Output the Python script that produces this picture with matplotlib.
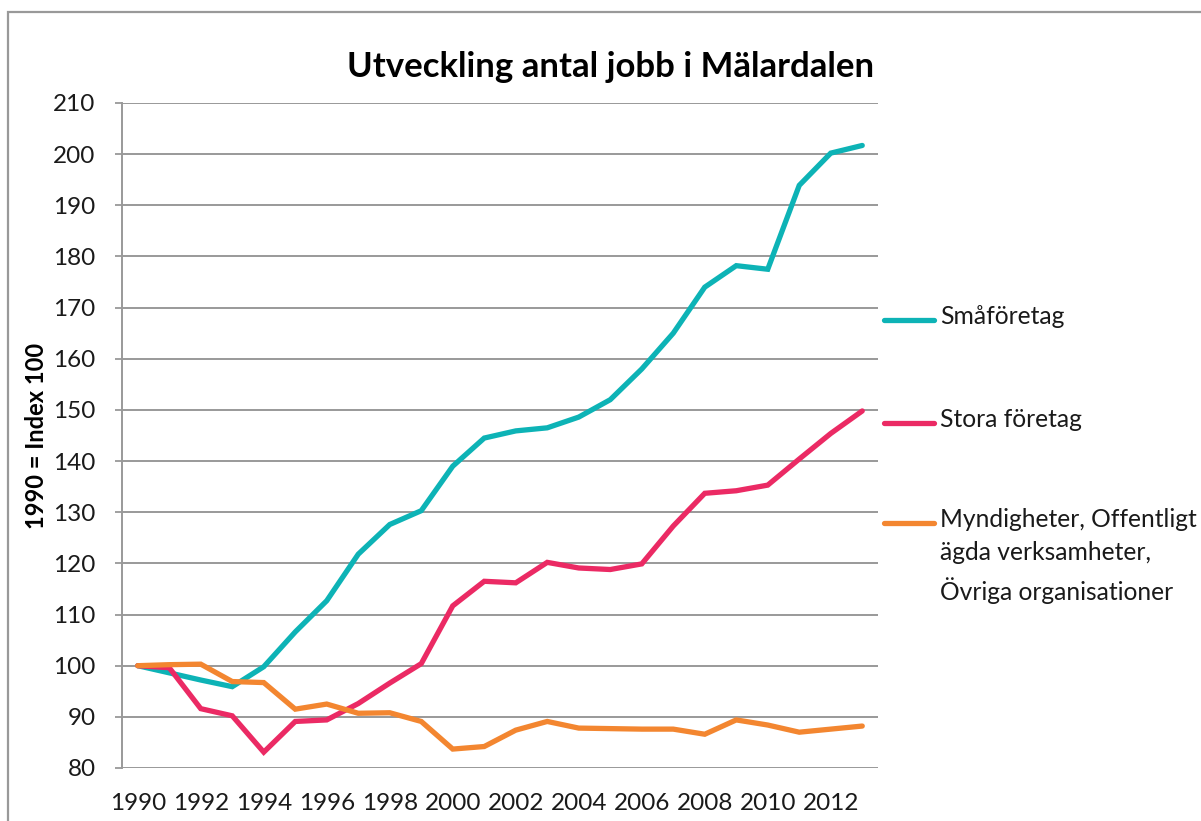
import matplotlib
matplotlib.use("Agg")
import matplotlib.pyplot as plt
from matplotlib.lines import Line2D
from matplotlib.patches import Rectangle

years = list(range(1990, 2014))
smaforetag = [100, 98.6, 97.2, 95.9, 99.8, 106.6, 112.7, 121.8, 127.6, 130.3, 139.0, 144.5,
              145.9, 146.5, 148.6, 152.0, 158.0, 165.0, 174.0, 178.2, 177.5, 193.9, 200.2, 201.7]
stora = [100, 99.6, 91.6, 90.2, 83.1, 89.1, 89.4, 92.6, 96.6, 100.4, 111.7, 116.5,
         116.2, 120.2, 119.1, 118.8, 119.9, 127.3, 133.7, 134.2, 135.3, 140.4, 145.4, 149.8]
myndigheter = [100, 100.2, 100.3, 96.9, 96.7, 91.5, 92.5, 90.7, 90.8, 89.1, 83.7, 84.2,
               87.4, 89.1, 87.8, 87.7, 87.6, 87.6, 86.6, 89.4, 88.4, 87.0, 87.6, 88.2]

labels = ["Småföretag", "Stora företag",
          "Myndigheter, Offentligt\nägda verksamheter,\nÖvriga organisationer"]
colors = ["#0DB3B6", "#EB2A64", "#F38630"]
title = "Utveckling antal jobb i Mälardalen"
ylabel = "1990 = Index 100"
yticks = list(range(80, 211, 10))
xticks = list(range(1990, 2013, 2))

plt.rcParams['font.family'] = ['Lato', 'DejaVu Sans']

W, H = 1201, 821
fig = plt.figure(figsize=(W / 100, H / 100), dpi=100)
ax = fig.add_axes([122 / W, 1 - 768 / H, (878 - 122) / W, (768 - 103) / H])

for vals, c in zip([smaforetag, stora, myndigheter], colors):
    ax.plot(years, vals, color=c, lw=3.8, solid_capstyle='round', solid_joinstyle='miter', zorder=3)

ax.set_xlim(1989.5, 2013.5)
ax.set_ylim(80, 210)
ax.set_yticks(yticks)
ax.set_xticks(xticks)
ax.tick_params(axis='y', labelsize=17.5, length=5, color='#999999', width=1.3, pad=14, labelcolor='#1a1a1a')
ax.tick_params(axis='x', labelsize=17.5, length=0, pad=18, labelcolor='#1a1a1a')
ax.grid(axis='y', color='#999999', lw=1.4, zorder=0)
ax.grid(axis='x', visible=False)
for s in ['top', 'right', 'bottom']:
    ax.spines[s].set_visible(False)
ax.spines['left'].set_color('#999999')
ax.spines['left'].set_linewidth(1.4)
ax.set_ylabel(ylabel, fontsize=17, fontweight='bold', labelpad=4)

fig.text(611 / W, 1 - 67 / H, title, ha='center', va='center', fontsize=25, fontweight='bold')

# legend
leg_y = [320, 423, 523]
for lab, c, yy in zip(labels, colors, leg_y):
    fig.add_artist(Line2D([884 / W, 934 / W], [1 - yy / H, 1 - yy / H], transform=fig.transFigure,
                          color=c, lw=3.8, solid_capstyle='round'))
    fig.text(940 / W, 1 - (yy - 15) / H, lab, ha='left', va='top', fontsize=17.7,
             linespacing=1.55, color='#1a1a1a')

# outer border (chart frame, partially cropped)
fig.add_artist(Rectangle((8 / W, -0.5), 1.5, 0.5 + 1 - 12 / H, transform=fig.transFigure,
                         fill=False, edgecolor='#999999', lw=1.6))

fig.savefig("out.png", dpi=100)
